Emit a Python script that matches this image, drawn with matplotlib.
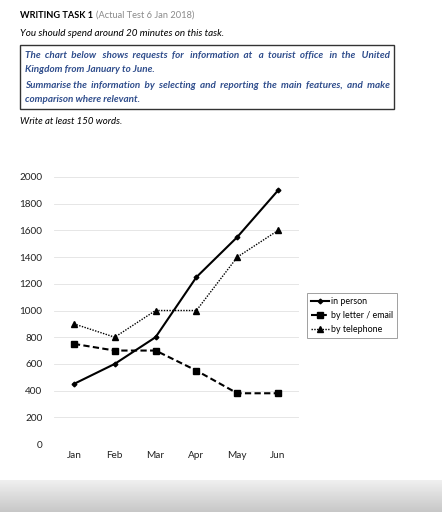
import matplotlib
matplotlib.use("Agg")
import matplotlib.pyplot as plt
import numpy as np

plt.rcParams['font.family'] = ['Lato', 'DejaVu Sans']

months = ["Jan", "Feb", "Mar", "Apr", "May", "Jun"]
in_person = [450, 600, 800, 1250, 1550, 1900]
by_letter = [750, 700, 700, 550, 380, 380]
by_phone = [900, 800, 1000, 1000, 1400, 1600]
y_ticks = [0, 200, 400, 600, 800, 1000, 1200, 1400, 1600, 1800, 2000]

W, H = 442, 512
fig = plt.figure(figsize=(W / 100, H / 100), dpi=100)
fig.patch.set_facecolor("white")
renderer = fig.canvas.get_renderer()


def px(x, y):
    return x / W, 1 - y / H


def text_width(s, **kw):
    t = fig.text(0, 0, s, **kw)
    w = t.get_window_extent(renderer).width
    t.remove()
    return w


# grey fade at the bottom of the scan
bg = fig.add_axes([0, 0, 1, 32 / H], zorder=-5)
grad = np.linspace(0.94, 0.78, 50)[:, None] * np.ones((50, 200))
bg.imshow(grad, cmap="gray", vmin=0, vmax=1, aspect="auto", extent=[0, 1, 0, 1])
bg.axis("off")

# header text
tw = text_width("WRITING TASK 1", fontsize=6.6, fontweight="bold")
fig.text(*px(20.5, 18), "WRITING TASK 1", fontsize=6.6, fontweight="bold",
         va="baseline")
fig.text(*px(20.5 + tw + 3, 18), "(Actual Test 6 Jan 2018)", fontsize=6.7,
         color="#8a8a8a", va="baseline")
fig.text(*px(20.5, 35.5), "You should spend around 20 minutes on this task.",
         fontsize=7.1, style="italic", va="baseline")
fig.text(*px(20.5, 123.5), "Write at least 150 words.", fontsize=6.9, style="italic",
         va="baseline")

box = plt.Rectangle(px(20, 109), 374 / W, 64 / H, transform=fig.transFigure,
                    fill=False, edgecolor="#333333", lw=1.0)
fig.add_artist(box)

blue = "#2f4d8c"
bkw = dict(fontsize=7.1, fontweight="bold", style="italic", color=blue)
lines = [
    ("The chart below shows requests for information at a tourist office in the United", 58.5, True),
    ("Kingdom from January to June.", 71.5, False),
    ("Summarise the information by selecting and reporting the main features, and make", 88.5, True),
    ("comparison where relevant.", 101.5, False),
]
x0, x1 = 25, 389
for txt, yy, justify in lines:
    if justify:
        # pad the gaps with extra spaces so the line fills the box
        words = txt.split()
        sp = text_width("a a", **bkw) - text_width("aa", **bkw)
        extra = (x1 - x0) - text_width(txt, **bkw)
        n_extra = max(0, int(round(extra / sp)))
        gaps = len(words) - 1
        out = words[0]
        for i, w in enumerate(words[1:]):
            k = n_extra * (i + 1) // gaps - n_extra * i // gaps
            out += " " * (1 + k) + w
        txt = out
    fig.text(*px(x0, yy), txt, va="baseline", **bkw)

# chart
ax = fig.add_axes([53.5 / W, 1 - 444 / H, 245 / W, 267 / H])
x = np.arange(len(months))
ax.plot(x, in_person, color="black", lw=1.5, marker="D", ms=2.4, label="in person")
ax.plot(x, by_letter, color="black", lw=1.5, ls=(0, (3, 1.6)), marker="s", ms=3.8,
        label="by letter / email")
ax.plot(x, by_phone, color="black", lw=1.0, ls=(0, (1, 1)), marker="^", ms=3.8,
        label="by telephone")

ax.set_xlim(-0.5, 5.5)
ax.set_ylim(0, 2000)
ax.set_xticks(x)
ax.set_xticklabels(months)
ax.set_yticks(y_ticks)
ax.tick_params(length=0, labelsize=7.2, colors="#222222")
ax.tick_params(axis="y", pad=8)
ax.tick_params(axis="x", pad=5)
ax.grid(axis="y", color="#e2e2e2", lw=0.6)
ax.set_axisbelow(True)
for s in ax.spines.values():
    s.set_visible(False)

leg = fig.legend(loc="upper left", bbox_to_anchor=px(307, 293), fontsize=6.4,
                 frameon=True, fancybox=False, handlelength=2.0, handletextpad=0.2,
                 borderpad=0.45, labelspacing=0.55, borderaxespad=0)
leg.get_frame().set_edgecolor("#888888")
leg.get_frame().set_linewidth(0.7)

fig.savefig("out.png", dpi=100)
